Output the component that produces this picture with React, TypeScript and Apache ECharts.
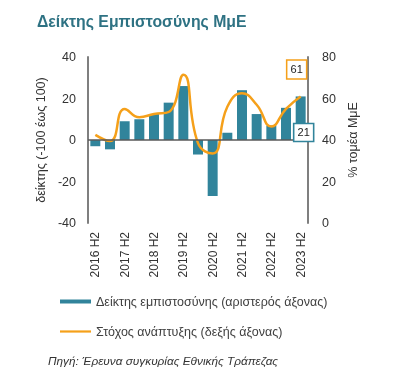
import React, { useEffect, useRef } from "react";
import * as echarts from "echarts";

const categories = [
  "2016 H2", "2017 H1", "2017 H2", "2018 H1", "2018 H2", "2019 H1", "2019 H2",
  "2020 H1", "2020 H2", "2021 H1", "2021 H2", "2022 H1", "2022 H2", "2023 H1", "2023 H2",
];
const confidenceIndex = [-3, -4.5, 9, 10, 12.5, 18, 26, -7, -27, 3.5, 24, 12.5, 7, 15.5, 21];
const growthTarget = [42.5, 39.5, 55, 51, 52.5, 53.5, 71.5, 38.5, 33.5, 56, 62.5, 57, 46.5, 55, 61];
const leftTicks = { min: -40, max: 40, interval: 20 };
const rightTicks = { min: 0, max: 80, interval: 20 };

const barName = "Δείκτης εμπιστοσύνης (αριστερός άξονας)";
const lineName = "Στόχος ανάπτυξης (δεξής άξονας)";
const FONT = "'Liberation Sans', Arial, sans-serif";

export default function App() {
  const ref = useRef<HTMLDivElement>(null);
  useEffect(() => {
    if (!ref.current) return;
    const chart = echarts.init(ref.current, null, { renderer: "svg" });
    const last = categories.length - 1;
    chart.setOption({
      animation: false,
      textStyle: { fontFamily: FONT },
      title: [
        {
          text: "Δείκτης Εμπιστοσύνης ΜμΕ",
          left: 37,
          top: 13,
          padding: 0,
          textStyle: { fontSize: 15.8, fontWeight: "bold", color: "#2E7283", fontFamily: FONT },
        },
        {
          text: "Πηγή: Έρευνα συγκυρίας Εθνικής Τράπεζας",
          left: 48,
          top: 355,
          padding: 0,
          textStyle: { fontSize: 11.8, fontWeight: "normal", fontStyle: "italic", color: "#333", fontFamily: FONT },
        },
      ],
      grid: { left: 88, right: 86, top: 57, bottom: 153 },
      legend: {
        orient: "vertical",
        left: 60,
        top: 295,
        padding: 0,
        itemWidth: 31,
        itemHeight: 4,
        itemGap: 17,
        selectedMode: false,
        symbolKeepAspect: true,
        textStyle: { fontSize: 12.5, color: "#404040", fontFamily: FONT },
        data: [
          { name: barName, icon: "rect" },
          { name: lineName, icon: "path://M0 0H31V2.2H0Z" },
        ],
      },
      xAxis: {
        type: "category",
        data: categories,
        axisLine: { show: false, onZero: false },
        axisTick: { show: false },
        axisLabel: { rotate: 90, interval: 1, margin: 9, fontSize: 12, color: "#333", fontFamily: FONT },
      },
      yAxis: [
        {
          type: "value",
          ...leftTicks,
          name: "δείκτης (-100 έως 100)",
          nameLocation: "middle",
          nameRotate: 90,
          nameGap: 36,
          nameTextStyle: { fontSize: 12.5, color: "#333", fontFamily: FONT },
          axisLine: { show: true, lineStyle: { color: "#7f7f7f", width: 2 } },
          axisTick: { show: false },
          splitLine: { show: false },
          axisLabel: { fontSize: 12.5, color: "#333", margin: 12, fontFamily: FONT },
        },
        {
          type: "value",
          ...rightTicks,
          position: "right",
          name: "% τομέα ΜμΕ",
          nameLocation: "middle",
          nameRotate: 90,
          nameGap: 38,
          nameTextStyle: { fontSize: 12.5, color: "#333", fontFamily: FONT },
          axisLine: { show: true, lineStyle: { color: "#7f7f7f", width: 2 } },
          axisTick: { show: false },
          splitLine: { show: false },
          axisLabel: { fontSize: 12.5, color: "#333", margin: 14, fontFamily: FONT },
        },
      ],
      series: [
        {
          name: barName,
          type: "bar",
          yAxisIndex: 0,
          data: confidenceIndex,
          barCategoryGap: "32%",
          itemStyle: { color: "#31849B" },
          silent: true,
          markLine: {
            silent: true,
            symbol: ["none", "none"],
            label: { show: false },
            lineStyle: { color: "#595959", width: 1.5, type: "solid" },
            data: [{ yAxis: 0 }],
          },
          markPoint: {
            silent: true,
            symbol: "rect",
            symbolSize: [20, 18],
            symbolOffset: [3, 36],
            itemStyle: { color: "#fff", borderColor: "#31849B", borderWidth: 1.5 },
            label: { show: true, position: "inside", color: "#222", fontSize: 11, formatter: "{c}", fontFamily: FONT },
            data: [{ coord: [categories[last], confidenceIndex[last]], value: confidenceIndex[last] }],
          },
        },
        {
          name: lineName,
          type: "line",
          yAxisIndex: 1,
          data: growthTarget,
          smooth: 0.5,
          symbol: "none",
          silent: true,
          z: 3,
          lineStyle: { color: "#F5A01A", width: 2.5 },
          itemStyle: { color: "#F5A01A" },
          markPoint: {
            silent: true,
            symbol: "rect",
            symbolSize: [20, 19],
            symbolOffset: [-4, -27],
            itemStyle: { color: "#fff", borderColor: "#F5A01A", borderWidth: 1.5 },
            label: { show: true, position: "inside", color: "#222", fontSize: 11, formatter: "{c}", fontFamily: FONT },
            data: [{ coord: [categories[last], growthTarget[last]], value: growthTarget[last] }],
          },
        },
      ],
    });
    return () => chart.dispose();
  }, []);
  return <div ref={ref} style={{ position: "fixed", left: 0, top: 0, width: 394, height: 376 }} />;
}
